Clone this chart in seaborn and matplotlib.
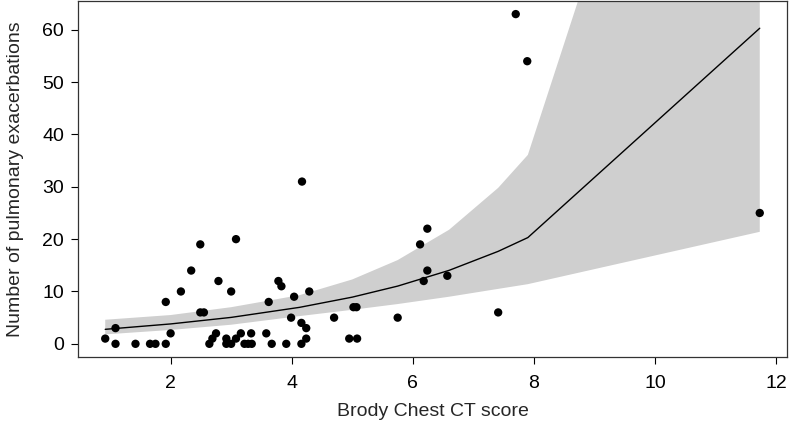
import pandas as pd
import matplotlib.pyplot as plt
import seaborn as sns

# observed patients: Brody CT score vs number of exacerbations
brody_score = [0.92, 1.09, 1.09, 1.42, 1.66, 1.75, 1.92, 1.92, 2.00, 2.17,
               2.34, 2.49, 2.49, 2.55, 2.64, 2.69, 2.75, 2.79, 2.92, 2.92,
               3.00, 3.00, 3.08, 3.08, 3.16, 3.22, 3.28, 3.33, 3.34, 3.58,
               3.62, 3.67, 3.78, 3.83, 3.91, 3.99, 4.04, 4.16, 4.17, 4.16,
               4.24, 4.24, 4.29, 4.70, 4.95, 5.02, 5.07, 5.08, 5.75, 6.12,
               6.18, 6.24, 6.24, 6.57, 7.41, 7.70, 7.89, 11.73]
exacerbations = [1, 3, 0, 0, 0, 0, 0, 8, 2, 10,
                 14, 19, 6, 6, 0, 1, 2, 12, 0, 1,
                 10, 0, 20, 1, 2, 0, 0, 2, 0, 2,
                 8, 0, 12, 11, 0, 5, 9, 4, 31, 0,
                 3, 1, 10, 5, 1, 7, 7, 1, 5, 19,
                 12, 22, 14, 13, 6, 63, 54, 25]

# fitted curve and confidence band
fit_x = [0.92, 2.0, 3.0, 4.13, 5.0, 5.75, 6.6, 7.41, 7.9, 11.73]
fit_y = [2.77, 3.80, 5.05, 6.97, 8.92, 11.03, 14.04, 17.67, 20.3, 60.3]
ci_low = [1.8, 2.65, 3.65, 5.3, 6.5, 7.6, 9.0, 10.5, 11.4, 21.4]
ci_high = [4.6, 5.5, 7.0, 9.3, 12.3, 16.0, 21.8, 29.8, 36.1, 172.0]

pts = pd.DataFrame({"score": brody_score, "n": exacerbations})
fit = pd.DataFrame({"score": fit_x, "fit": fit_y, "lo": ci_low, "hi": ci_high})

sns.set_style("ticks")
plt.rcParams["font.family"] = ["Liberation Sans", "DejaVu Sans"]

fig = plt.figure(figsize=(7.9, 4.22), dpi=100)
ax = fig.add_axes([0.0987, 0.154, 0.8975, 0.8436])

ax.fill_between(fit["score"], fit["lo"], fit["hi"], color="#cfcfcf", linewidth=0, zorder=1)
sns.lineplot(data=fit, x="score", y="fit", color="black", linewidth=1.0, ax=ax, zorder=2)
sns.scatterplot(data=pts, x="score", y="n", color="black", s=36, edgecolor="none", ax=ax, zorder=3)

ax.set_xlim(0.47, 12.18)
ax.set_ylim(-2.52, 65.5)
ax.set_xticks([2, 4, 6, 8, 10, 12])
ax.set_yticks([0, 10, 20, 30, 40, 50, 60])
ax.tick_params(direction="out", length=5, width=0.8, labelsize=14, colors="black")
ax.tick_params(axis="x", pad=8)
ax.tick_params(axis="y", pad=5)

for sp in ax.spines.values():
    sp.set_visible(True)
    sp.set_color("#333333")
    sp.set_linewidth(0.9)

ax.set_xlabel("Brody Chest CT score", fontsize=14, labelpad=8)
ax.set_ylabel("Number of pulmonary exacerbations", fontsize=14, labelpad=13)

fig.savefig("out.png", dpi=100)
